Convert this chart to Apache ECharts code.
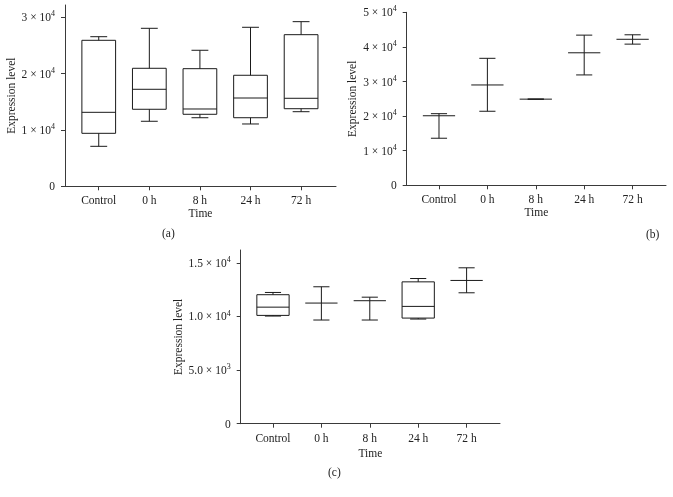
<!DOCTYPE html>
<html>
<head>
<meta charset="utf-8">
<script src="https://cdn.jsdelivr.net/npm/echarts@6/dist/echarts.min.js"></script>
<style>html,body{margin:0;padding:0;background:#fff}#chart{width:673px;height:497px}</style>
</head>
<body>
<div id="chart"></div>
<script>
const categories = ['Control', '0 h', '8 h', '24 h', '72 h'];

// Panel (a): whisker low, Q1, median, Q3, whisker high
const aLow  = [7100, 11550, 12180, 11070, 13250];
const aQ1   = [9410, 13680, 12790, 12180, 13780];
const aMed  = [13140, 17230, 13730, 15680, 15630];
const aQ3   = [25930, 20960, 20890, 19720, 26930];
const aHigh = [26570, 28060, 24160, 28240, 29240];
const aTickValues = [0, 10000, 20000, 30000];
const aTickLabels = ['0', '1 × 10^4', '2 × 10^4', '3 × 10^4'];

// Panel (b)
const bLow  = [13600, 21400, 24900, 31900, 40800];
const bQ1   = [20100, 29000, 24900, 38300, 42200];
const bMed  = [20100, 29000, 24900, 38300, 42200];
const bQ3   = [20100, 29000, 24900, 38300, 42200];
const bHigh = [20700, 36700, 24900, 43400, 43500];
const bTickValues = [0, 10000, 20000, 30000, 40000, 50000];
const bTickLabels = ['0', '1 × 10^4', '2 × 10^4', '3 × 10^4', '4 × 10^4', '5 × 10^4'];

// Panel (c)
const cLow  = [10040, 9670, 9670, 9760, 12210];
const cQ1   = [10100, 11250, 11470, 9850, 13360];
const cMed  = [10870, 11250, 11470, 10940, 13360];
const cQ3   = [12030, 11250, 11470, 13230, 13360];
const cHigh = [12240, 12770, 11800, 13540, 14540];
const cTickValues = [0, 5000, 10000, 15000];
const cTickLabels = ['0', '5.0 × 10^3', '1.0 × 10^4', '1.5 × 10^4'];

const panelLabels = ['(a)', '(b)', '(c)'];
const xName = 'Time';
const yName = 'Expression level';

const FONT = '"Liberation Serif", "DejaVu Serif", serif';
const TXT = '#222';
const AXC = '#3a3a3a';
const BOXC = '#1a1a1a';
const BOX_W = 2 / 3;
const CAP_W = 1 / 3;

function buildData(low, q1, med, q3, high) {
  return categories.map((c, i) => [i, low[i], q1[i], med[i], q3[i], high[i]]);
}

function tickFormatter(values, labels) {
  return function (v) {
    const idx = values.indexOf(v);
    const s = idx >= 0 ? labels[idx] : String(v);
    const parts = s.split('^');
    if (parts.length === 1) return '{m|' + s + '}';
    return '{m|' + parts[0] + '}{s|' + parts[1] + '}';
  };
}

const rich = {
  m: { fontFamily: FONT, fontSize: 11.5, color: TXT, lineHeight: 14, verticalAlign: 'bottom' },
  s: { fontFamily: FONT, fontSize: 8, color: TXT, lineHeight: 14, verticalAlign: 'top', padding: [0, 0, 5, 0] }
};

function renderBox(params, api) {
  const x = api.value(0);
  const lo = api.value(1), q1 = api.value(2), med = api.value(3), q3 = api.value(4), hi = api.value(5);
  const pLo = api.coord([x, lo]);
  const pHi = api.coord([x, hi]);
  const pQ1 = api.coord([x, q1]);
  const pQ3 = api.coord([x, q3]);
  const pMed = api.coord([x, med]);
  const bw = api.size([BOX_W, 0])[0] / 2;
  const cw = api.size([CAP_W, 0])[0] / 2;
  const style = { stroke: BOXC, lineWidth: 1, fill: null };
  const cx = pLo[0];
  const children = [];
  children.push({ type: 'line', shape: { x1: cx, y1: pHi[1], x2: cx, y2: pQ3[1] }, style });
  children.push({ type: 'line', shape: { x1: cx, y1: pQ1[1], x2: cx, y2: pLo[1] }, style });
  children.push({ type: 'line', shape: { x1: cx - cw, y1: pHi[1], x2: cx + cw, y2: pHi[1] }, style });
  children.push({ type: 'line', shape: { x1: cx - cw, y1: pLo[1], x2: cx + cw, y2: pLo[1] }, style });
  if (Math.abs(pQ1[1] - pQ3[1]) > 0.5) {
    children.push({ type: 'rect', shape: { x: cx - bw, y: pQ3[1], width: 2 * bw, height: pQ1[1] - pQ3[1] }, style });
  }
  children.push({ type: 'line', shape: { x1: cx - bw, y1: pMed[1], x2: cx + bw, y2: pMed[1] }, style });
  return { type: 'group', children };
}

function xAxisCfg(gridIndex, nameGap) {
  const idx = [0, 1, 2, 3, 4];
  return {
    type: 'value', gridIndex, min: -0.667, max: 4.69,
    name: xName, nameLocation: 'middle', nameGap,
    nameTextStyle: { fontFamily: FONT, fontSize: 11.5, color: TXT },
    splitLine: { show: false },
    axisLine: { show: true, onZero: false, lineStyle: { color: AXC, width: 1 } },
    axisTick: { show: true, length: 4, customValues: idx, lineStyle: { color: AXC } },
    axisLabel: {
      customValues: idx, margin: 9,
      fontFamily: FONT, fontSize: 11.5, color: TXT,
      formatter: (v) => categories[Math.round(v)] || ''
    }
  };
}

function yAxisCfg(gridIndex, max, values, labels, nameGap) {
  return {
    type: 'value', gridIndex, min: 0, max,
    name: yName, nameLocation: 'middle', nameGap,
    nameTextStyle: { fontFamily: FONT, fontSize: 11.5, color: TXT },
    splitLine: { show: false },
    axisLine: { show: true, onZero: false, lineStyle: { color: AXC, width: 1 } },
    axisTick: { show: true, length: 4, customValues: values, lineStyle: { color: AXC } },
    axisLabel: { customValues: values, margin: 10, formatter: tickFormatter(values, labels), rich }
  };
}

const chart = echarts.init(document.getElementById('chart'), null, { renderer: 'canvas' });
chart.setOption({
  animation: false,
  backgroundColor: '#fff',
  grid: [
    { left: 65, top: 5, width: 271, height: 181.3 },
    { left: 406.7, top: 12.3, width: 259.3, height: 173 },
    { left: 240.7, top: 250, width: 259.3, height: 173.7 }
  ],
  xAxis: [xAxisCfg(0, 21), xAxisCfg(1, 21), xAxisCfg(2, 24)],
  yAxis: [
    yAxisCfg(0, 32200, aTickValues, aTickLabels, 46),
    yAxisCfg(1, 50000, bTickValues, bTickLabels, 48),
    yAxisCfg(2, 16200, cTickValues, cTickLabels, 56)
  ],
  series: [
    { type: 'custom', xAxisIndex: 0, yAxisIndex: 0, renderItem: renderBox, data: buildData(aLow, aQ1, aMed, aQ3, aHigh), encode: { x: 0, y: [1, 2, 3, 4, 5] } },
    { type: 'custom', xAxisIndex: 1, yAxisIndex: 1, renderItem: renderBox, data: buildData(bLow, bQ1, bMed, bQ3, bHigh), encode: { x: 0, y: [1, 2, 3, 4, 5] } },
    { type: 'custom', xAxisIndex: 2, yAxisIndex: 2, renderItem: renderBox, data: buildData(cLow, cQ1, cMed, cQ3, cHigh), encode: { x: 0, y: [1, 2, 3, 4, 5] } }
  ],
  graphic: [
    { type: 'text', left: 162, top: 228, style: { text: panelLabels[0], font: '11.5px ' + FONT, fill: TXT } },
    { type: 'text', left: 646, top: 229, style: { text: panelLabels[1], font: '11.5px ' + FONT, fill: TXT } },
    { type: 'text', left: 328, top: 467, style: { text: panelLabels[2], font: '11.5px ' + FONT, fill: TXT } }
  ]
});
</script>
</body>
</html>
